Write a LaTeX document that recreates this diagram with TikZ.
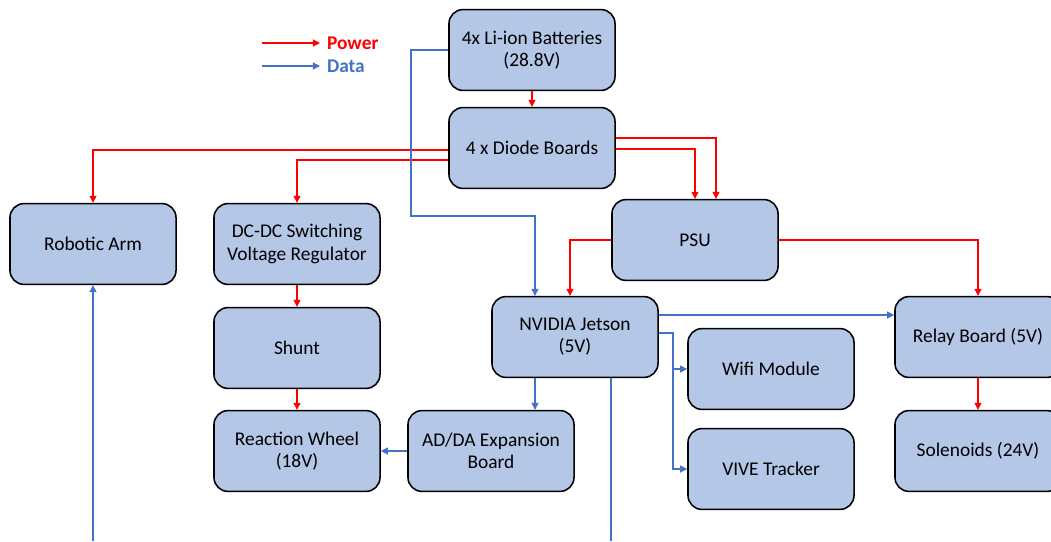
\documentclass[tikz,border=0pt]{standalone}
\usepackage{fontspec}
\setmainfont{Carlito}
\usetikzlibrary{arrows.meta}

\definecolor{boxfill}{RGB}{180,199,231}
\definecolor{pwred}{RGB}{255,0,0}
\definecolor{datablue}{RGB}{68,114,196}

\begin{document}
\begin{tikzpicture}[x=0.025cm, y=-0.025cm,
	block node/.style={draw, rounded corners=0.35cm, fill=boxfill, line width=1.1pt,
		minimum width=4.15cm, minimum height=2.02cm, align=center, font=\fontsize{13.8}{15.8}\selectfont},
	power line/.style={draw=pwred, line width=0.8pt, -{Triangle[length=5pt,width=5pt]}},
	data line/.style={draw=datablue, line width=0.8pt, -{Triangle[length=5pt,width=5pt]}},
	legend node/.style={font=\fontsize{13.8}{15.8}\selectfont\bfseries, anchor=west, inner sep=0pt, outer sep=5pt}]

	\useasboundingbox (0,0) rectangle (1051,541);
	\clip (0,0) rectangle (1051,541);

	\node[block node] (bat) at (532,50) {4x Li-ion Batteries\\(28.8V)};
	\node[block node] (diode) at (532,148) {4 x Diode Boards};
	\node[block node] (arm) at (93,244) {Robotic Arm};
	\node[block node] (dcdc) at (297,244) {DC-DC Switching\\Voltage Regulator};
	\node[block node] (psu) at (695,240) {PSU};
	\node[block node] (jetson) at (575,337) {NVIDIA Jetson\\(5V)};
	\node[block node] (relay) at (978,337) {Relay Board (5V)};
	\node[block node] (wifi) at (771,369) {Wifi Module};
	\node[block node] (vive) at (771,469) {VIVE Tracker};
	\node[block node] (shunt) at (297,348) {Shunt};
	\node[block node] (wheel) at (297,451) {Reaction Wheel\\(18V)};
	\node[block node] (adda) at (491,451) {AD/DA Expansion\\Board};
	\node[block node] (solen) at (978,451) {Solenoids (24V)};

	% legend
	\node[legend node, text=pwred] (pw) at (320,43) {Power};
	\node[legend node, text=datablue] (dt) at (320,66) {Data};
	\coordinate (pwstart) at (262,43);
	\coordinate (dtstart) at (262,66);
	\draw[power line] (pwstart) -- (pw);
	\draw[data line] (dtstart) -- (dt);

	% power
	\draw[power line] (bat) -- (diode);
	\draw[power line] (diode.west |- 0,150) -| (arm);
	\draw[power line] (diode.west |- 0,160) -| (dcdc);
	\draw[power line] (diode.east |- 0,138) -| (716,0 |- psu.north);
	\draw[power line] (diode.east |- 0,149) -| (psu);
	\draw[power line] (psu.west) -| (570,0 |- jetson.north);
	\draw[power line] (psu.east) -| (relay);
	\draw[power line] (relay) -- (solen);
	\draw[power line] (dcdc) -- (shunt);
	\draw[power line] (shunt) -- (wheel);

	% data
	\coordinate (armin) at (93,541);
	\coordinate (jetout) at (611,541);
	\draw[data line] (bat.west) -| (411,216) -| (535,0 |- jetson.north);
	\draw[data line] (jetson.east |- 0,315) -- (relay.west |- 0,315);
	\draw[data line] (jetson.east |- 0,333) -- (673,333) |- (wifi.west);
	\draw[data line] (673,333) |- (vive.west);
	\draw[data line] (535,0 |- jetson.south) -- (535,0 |- adda.north);
	\draw[data line] (adda.west) -- (wheel.east);
	\draw[data line] (armin) -- (arm.south);
	\draw[data line, -] (611,0 |- jetson.south) -- (jetout);
\end{tikzpicture}
\end{document}
